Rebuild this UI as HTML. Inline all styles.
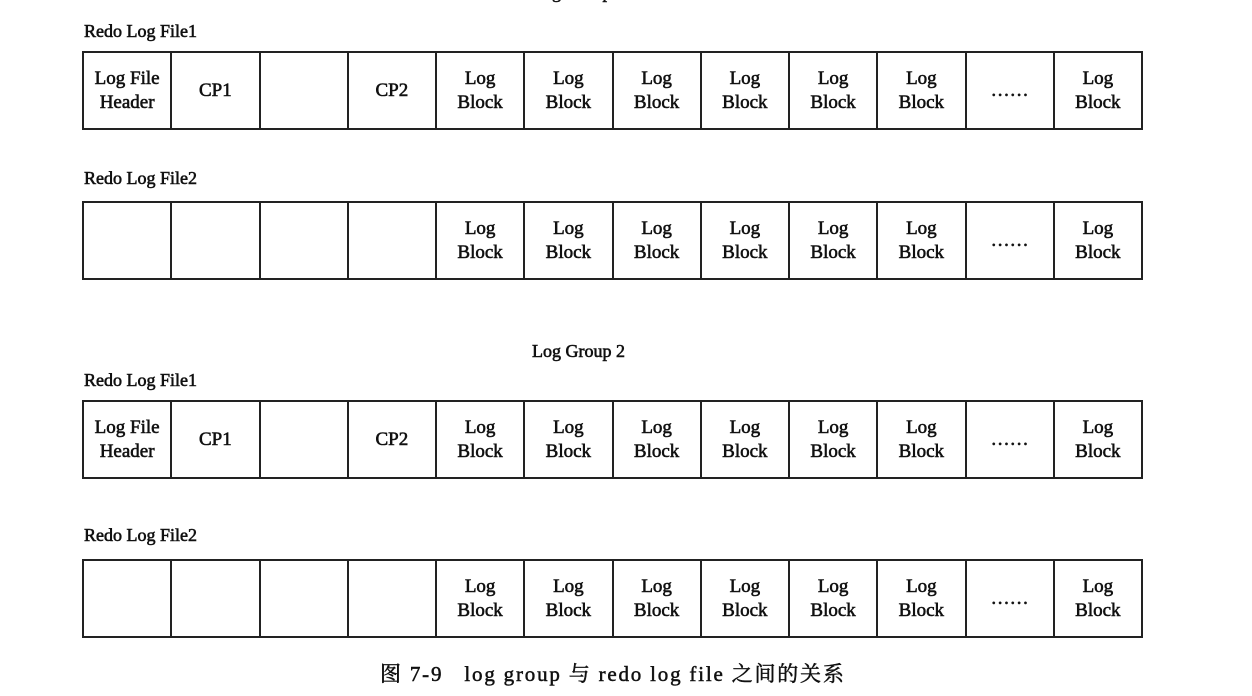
<!DOCTYPE html>
<html><head><meta charset="utf-8">
<style>
body{margin:0;background:#fff;width:1252px;height:696px;overflow:hidden;position:relative;font-family:"Liberation Serif","Noto Serif CJK SC",serif;color:#111}
.lbl{position:absolute;font-size:18px;white-space:nowrap;-webkit-text-stroke:0.6px #111}
.row{position:absolute;left:82px;width:1061px;height:79px;border:2px solid #222;box-sizing:border-box;display:flex}
.cell{flex:1;border-right:2px solid #222;display:flex;align-items:center;justify-content:center;text-align:center;font-size:19px;line-height:24px;-webkit-text-stroke:0.6px #111}
.cell:last-child{border-right:none}
</style></head><body>
<div class="lbl" style="left:532px;top:-18px">Log Group 1</div>
<div class="lbl" style="left:532px;top:341px">Log Group 2</div>
<div class="lbl" style="left:380px;top:658px;font-size:21px;letter-spacing:1.8px;-webkit-text-stroke:0.5px #111">图 7-9&nbsp;&nbsp;&nbsp;log group 与 redo log file 之间的关系</div>
<div id="root"></div>
<script>
const rowTops=[51,201,400,559];
const labelTops=[21,168,370,525];
const labelTexts=["Redo Log File1","Redo Log File2","Redo Log File1","Redo Log File2"];
const firstCells=["Log File<br>Header","CP1","","CP2"];
const blankCells=["","","",""];
const root=document.getElementById('root');
rowTops.forEach((t,i)=>{
  const l=document.createElement('div');
  l.className='lbl';l.style.left='84px';l.style.top=labelTops[i]+'px';l.textContent=labelTexts[i];
  
  
  root.appendChild(l);
  const r=document.createElement('div');
  r.className='row';r.style.top=t+'px';
  
  
  const cells=(i%2===0?firstCells:blankCells).concat(Array(6).fill('Log<br>Block'),['……','Log<br>Block']);
  cells.forEach(c=>{
    const d=document.createElement('div');d.className='cell';d.innerHTML=c;
    
    
    r.appendChild(d);
  });
  root.appendChild(r);
});
</script>
</body></html>
